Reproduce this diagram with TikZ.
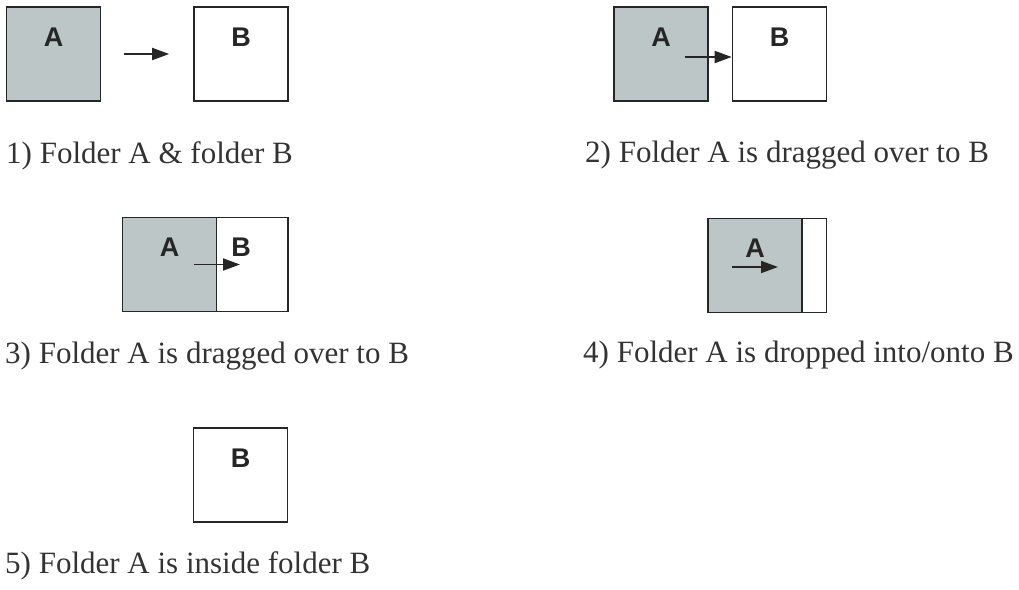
\documentclass[tikz,border=0pt]{standalone}
\usepackage{fontspec}
\setmainfont{Liberation Serif}
\newfontfamily\boxfont{Liberation Sans}
\usetikzlibrary{arrows.meta,positioning}
\definecolor{foldergray}{RGB}{188,198,198}
\tikzset{
  folder/.style={rectangle,draw=black!85,line width=1.6pt,
    minimum width=94pt,minimum height=94pt,inner sep=0pt,fill=white},
  foldera/.style={folder,fill=foldergray},
  letter/.style={font=\boxfont\bfseries\fontsize{27}{27}\selectfont,
    text=black!85,inner sep=0pt},
  caption/.style={font=\fontsize{31}{31}\selectfont,text=black!80,
    anchor=base west,inner sep=0pt},
  drag/.style={-{Triangle[length=17pt,width=12pt]},line width=1.8pt,
    draw=black!85}}

\begin{document}
\begin{tikzpicture}[x=1pt,y=-1pt]
  \useasboundingbox (0,0) rectangle (1019,589);

  % 1) two folders
  \node[foldera] (fa1) at (53.5,54) {};
  \node[folder] (fb1) at (241,54) {};
  \node[letter] (la1) at ([yshift=17pt]fa1.center) {A};
  \node[letter] (lb1) at ([yshift=17pt]fb1.center) {B};
  \draw[drag,shorten <=23pt,shorten >=24pt] (fa1) -- (fb1);
  \node[caption] (cap1) at (6,163) {1) Folder A \& folder B};

  % 2) A next to B
  \node[foldera] (fa2) at (661,54) {};
  \node[folder] (fb2) at (779.5,54) {};
  \node[letter] (la2) at ([yshift=17pt]fa2.center) {A};
  \node[letter] (lb2) at ([yshift=17pt]fb2.center) {B};
  \coordinate (s2) at ([xshift=24pt,yshift=-3pt]fa2.center);
  \draw[drag] (s2) -- (s2 -| fb2.west);
  \node[caption] (cap2) at (585,162) {2) Folder A is dragged over to B};

  % 3) A over part of B
  \node[folder] (fb3) at (241,264.5) {};
  \node[foldera] (fa3) at (169.5,264.5) {};
  \node[letter] (la3) at ([yshift=17pt]fa3.center) {A};
  \node[letter] (lb3) at ([yshift=17pt]fb3.center) {B};
  \coordinate (s3) at ([xshift=24pt]fa3.center);
  \coordinate (e3) at ([xshift=-1pt]fb3.center);
  \draw[drag] (s3) -- (e3);
  \node[caption] (cap3) at (5,363) {3) Folder A is dragged over to B};

  % 4) A dropped onto B
  \node[folder] (fb4) at (779.5,265.5) {};
  \node[foldera] (fa4) at (755,265.5) {};
  \node[letter] (la4) at ([yshift=17pt]fa4.center) {A};
  \coordinate (s4) at ([xshift=-23pt,yshift=-1.5pt]fa4.center);
  \coordinate (e4) at ([xshift=23pt,yshift=-1.5pt]fa4.center);
  \draw[drag] (s4) -- (e4);
  \node[caption] (cap4) at (583,362) {4) Folder A is dropped into/onto B};

  % 5) only B left
  \node[folder] (fb5) at (240.5,475) {};
  \node[letter] (lb5) at ([yshift=17pt]fb5.center) {B};
  \node[caption] (cap5) at (5,573) {5) Folder A is inside folder B};
\end{tikzpicture}
\end{document}
